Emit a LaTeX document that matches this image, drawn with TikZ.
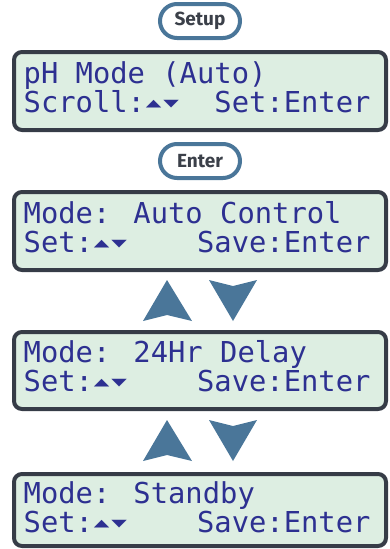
\documentclass[tikz,border=0pt]{standalone}
\usepackage{fontspec}
\usepackage{graphicx}
\usepackage{tikz}

\setmainfont{Fira Sans}
\newfontfamily\lcdfont{DejaVu Sans Mono}

\definecolor{lcdgreen}{HTML}{DDEEE2}
\definecolor{lcdframe}{HTML}{363C47}
\definecolor{lcdink}{HTML}{2D3091}
\definecolor{keyblue}{HTML}{4A7699}
\definecolor{keyink}{HTML}{3B4049}

% two small arrow keys, one character cell each
\newcommand{\arrowkeys}{%
  \makebox[0.602em]{\raisebox{0.16em}{\scalebox{0.9}[0.45]{▲}}}%
  \makebox[0.602em]{\raisebox{0.16em}{\scalebox{0.9}[0.45]{▼}}}}

\tikzset{
  lcd/.style={draw=lcdframe, line width=4pt, fill=lcdgreen, rounded corners=8pt,
    minimum width=372pt, minimum height=78pt, inner sep=0pt, outer sep=0pt,
    anchor=north west},
  lcdline/.style={anchor=base west, inner sep=0pt, text=lcdink,
    font=\lcdfont\fontsize{28.8}{29}\selectfont},
  key/.style={draw=keyblue, line width=4pt, rounded corners=17pt,
    minimum width=80pt, minimum height=34pt, inner sep=0pt, text=keyink,
    font=\bfseries\fontsize{19}{19}\selectfont},
  updown/.style={fill=keyblue}
}

\begin{document}
\begin{tikzpicture}[x=1pt,y=-1pt]
        \useasboundingbox (0,0) rectangle (389,549);

        % buttons
        \node[key] (setupkey) at (200,21) {Setup};
        \node[key] (enterkey) at (200,161) {Enter};

        % displays
        \node[lcd] (lcdA) at (14,52) {};
        \node[lcd] (lcdB) at (14,192) {};
        \node[lcd, minimum height=77pt] (lcdC) at (14,332) {};
        \node[lcd, minimum height=72pt] (lcdD) at (14,474) {};

        \node[lcdline] (lcdAtop) at (23.5,83) {pH Mode (Auto)};
        \node[lcdline] (lcdAbot) at (23.5,112) {Scroll:\arrowkeys\ \ Set:Enter};
        \node[lcdline] (lcdBtop) at (23.5,223) {Mode: Auto Control};
        \node[lcdline] (lcdBbot) at (23.5,252) {Set:\arrowkeys\ \ \ \ Save:Enter};
        \node[lcdline] (lcdCtop) at (23.5,362) {Mode: 24Hr Delay};
        \node[lcdline] (lcdCbot) at (23.5,391) {Set:\arrowkeys\ \ \ \ Save:Enter};
        \node[lcdline] (lcdDtop) at (23.5,503) {Mode: Standby};
        \node[lcdline] (lcdDbot) at (23.5,532) {Set:\arrowkeys\ \ \ \ Save:Enter};

        % up / down keys between the displays
        \fill[updown] (167,280) -- (192,321) -- (167,315) -- (143,321) -- cycle;
        \fill[updown] (209,280) -- (233,286) -- (257,280) -- (233,321) -- cycle;
        \fill[updown] (167,420) -- (192,461) -- (167,455) -- (143,461) -- cycle;
        \fill[updown] (209,420) -- (233,426) -- (257,420) -- (233,461) -- cycle;
      \end{tikzpicture}
\end{document}
